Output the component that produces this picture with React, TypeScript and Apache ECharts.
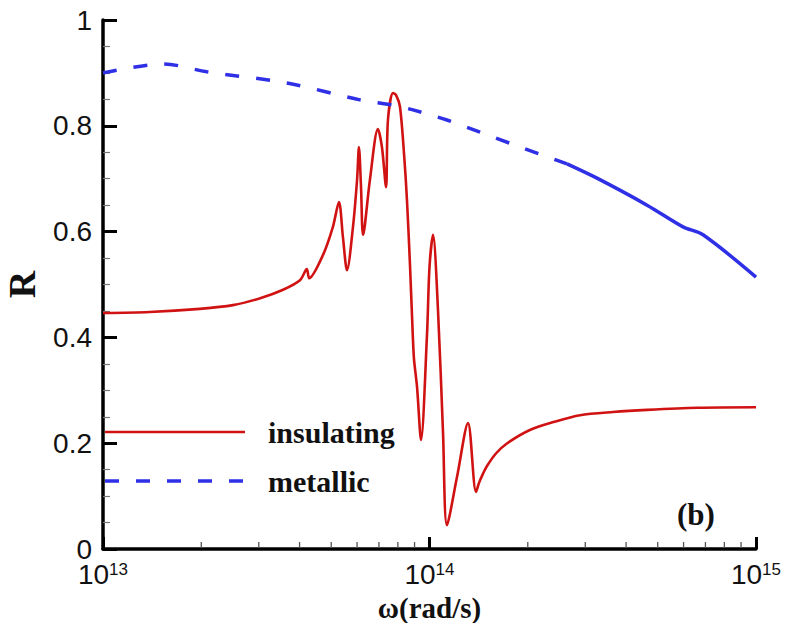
import React, { useEffect, useRef } from "react";
import * as echarts from "echarts";

// ---- data ----
const insulatingOmega = [
  1.0e13, 1.39e13, 1.98e13, 2.5e13, 3.03e13, 3.56e13, 4.01e13, 4.21e13, 4.28e13, 4.72e13,
  5.06e13, 5.28e13, 5.43e13, 5.59e13, 5.83e13, 6.0e13, 6.08e13, 6.17e13, 6.26e13, 6.57e13,
  6.95e13, 7.15e13, 7.36e13, 7.46e13, 7.73e13, 7.9e13, 8.12e13, 8.36e13, 8.53e13, 8.72e13,
  8.9e13, 8.97e13, 9.16e13, 9.42e13, 9.83e13, 1.0e14, 1.025e14, 1.062e14, 1.1e14, 1.131e14,
  1.214e14, 1.312e14, 1.388e14, 1.42e14, 1.46e14, 1.5e14, 1.6e14, 1.73e14, 2.03e14, 2.4e14,
  2.89e14, 3.65e14, 4.64e14, 6.6e14, 1.0e15,
];
const insulatingR = [
  0.446, 0.448, 0.454, 0.461, 0.474, 0.49, 0.508, 0.529, 0.512, 0.556,
  0.609, 0.656, 0.59, 0.527, 0.609, 0.698, 0.76, 0.684, 0.594, 0.698,
  0.794, 0.76, 0.684, 0.811, 0.862, 0.858, 0.836, 0.745, 0.66, 0.533,
  0.395, 0.357, 0.306, 0.206, 0.408, 0.533, 0.594, 0.45, 0.22, 0.045,
  0.136, 0.238, 0.108, 0.126, 0.143, 0.157, 0.181, 0.2, 0.225, 0.24,
  0.253, 0.259, 0.263, 0.267, 0.268,
];
const metallicDashedOmega = [1.0e13, 1.53e13, 2.08e13, 3.66e13, 6.12e13, 7.73e13, 8.9e13, 1.131e14, 1.428e14, 1.893e14, 2.637e14];
const metallicDashedR = [0.9, 0.917, 0.902, 0.881, 0.849, 0.839, 0.83, 0.811, 0.788, 0.76, 0.728];
const metallicSolidOmega = [2.637e14, 3.258e14, 4.638e14, 5.976e14, 6.882e14, 1.0e15];
const metallicSolidR = [0.728, 0.701, 0.65, 0.609, 0.594, 0.514];

const xMinorTicks = [2e13, 3e13, 4e13, 5e13, 6e13, 7e13, 8e13, 9e13, 2e14, 3e14, 4e14, 5e14, 6e14, 7e14, 8e14, 9e14];

const legendNames = ["insulating", "metallic"];

const zip = (a: number[], b: number[]) => a.map((v, i) => [v, b[i]]);

const SERIF = "'Liberation Serif', 'Times New Roman', serif";
const SANS = "'Liberation Sans', Arial, sans-serif";
const RED = "#d01212";
const BLUE = "#2f2fe6";

export default function App() {
  const ref = useRef<HTMLDivElement>(null);
  useEffect(() => {
    if (!ref.current) return;
    const chart = echarts.init(ref.current, undefined, { renderer: "svg" });
    chart.setOption({
      animation: false,
      backgroundColor: "#fff",
      grid: { left: 103, right: 30, top: 20, bottom: 74, containLabel: false, outerBoundsMode: "none" },
      xAxis: {
        type: "log",
        logBase: 10,
        min: 1e13,
        max: 1e15,
        name: "ω(rad/s)",
        nameLocation: "middle",
        nameGap: 36,
        nameTextStyle: { fontFamily: SERIF, fontWeight: "bold", fontSize: 29, lineHeight: 28, color: "#111" },
        axisLine: { show: true, lineStyle: { color: "#000", width: 3.5 } },
        axisTick: { show: true, inside: true, length: 12, lineStyle: { color: "#000", width: 3 } },
        splitLine: { show: false },
        axisLabel: {
          margin: 12,
          formatter: (v: number) => `{b|10}{s|${Math.round(Math.log10(v))}}`,
          rich: {
            b: { fontFamily: SANS, fontSize: 28, lineHeight: 27, color: "#111" },
            s: { fontFamily: SANS, fontSize: 17, lineHeight: 15, verticalAlign: "top", color: "#111" },
          },
        },
      },
      yAxis: {
        type: "value",
        min: 0,
        max: 1,
        interval: 0.2,
        name: "R",
        nameLocation: "middle",
        nameGap: 62,
        nameRotate: 90,
        nameTextStyle: { fontFamily: SERIF, fontWeight: "bold", fontSize: 38, color: "#111" },
        axisLine: { show: true, lineStyle: { color: "#000", width: 3.5 } },
        axisTick: { show: true, inside: true, length: 14, lineStyle: { color: "#000", width: 3 } },
        minorTick: { show: true, splitNumber: 4, length: 7, lineStyle: { color: "#777", width: 1.2 } },
        splitLine: { show: false },
        axisLabel: { margin: 11, fontFamily: SANS, fontSize: 28, lineHeight: 18, color: "#111" },
      },
      graphic: [
        {
          type: "line",
          shape: { x1: 105, y1: 432, x2: 245, y2: 432 },
          style: { stroke: RED, lineWidth: 2.6 },
        },
        {
          type: "line",
          shape: { x1: 105, y1: 481, x2: 245, y2: 481 },
          style: { stroke: BLUE, lineWidth: 3.5, lineDash: [14, 17] },
        },
        {
          type: "text",
          x: 268,
          y: 432,
          style: {
            text: legendNames[0], fontFamily: SERIF, fontWeight: "bold", fontSize: 30, fill: "#111",
            verticalAlign: "middle",
          },
        },
        {
          type: "text",
          x: 268,
          y: 481,
          style: {
            text: legendNames[1], fontFamily: SERIF, fontWeight: "bold", fontSize: 30, fill: "#111",
            verticalAlign: "middle",
          },
        },
        {
          type: "text",
          x: 677,
          y: 514,
          style: {
            text: "(b)", fontFamily: SERIF, fontWeight: "bold", fontSize: 31, fill: "#111",
            verticalAlign: "middle",
          },
        },
      ],
      series: [
        {
          name: "insulating",
          type: "line",
          symbol: "none",
          smooth: 0.3,
          data: zip(insulatingOmega, insulatingR),
          lineStyle: { color: RED, width: 2.6 },
          itemStyle: { color: RED },
        },
        {
          name: "metallic",
          type: "line",
          symbol: "none",
          smooth: 0.3,
          data: zip(metallicDashedOmega, metallicDashedR),
          lineStyle: { color: BLUE, width: 3.5, type: [14, 17] },
          itemStyle: { color: BLUE },
        },
        {
          name: "metallic (dense)",
          type: "line",
          symbol: "none",
          smooth: 0.3,
          data: zip(metallicSolidOmega, metallicSolidR),
          lineStyle: { color: BLUE, width: 3.5 },
          itemStyle: { color: BLUE },
        },
        {
          name: "minor ticks",
          type: "custom",
          silent: true,
          data: xMinorTicks.map((v) => [v, 0]),
          renderItem: (_p: any, api: any) => {
            const p = api.coord([api.value(0), 0]);
            return {
              type: "line",
              shape: { x1: p[0], y1: p[1] - 1, x2: p[0], y2: p[1] - 7 },
              style: { stroke: "#555", lineWidth: 1.3 },
            };
          },
        },
      ],
    });
    return () => chart.dispose();
  }, []);
  return <div ref={ref} style={{ position: "fixed", left: 0, top: 0, width: 786, height: 623 }} />;
}
